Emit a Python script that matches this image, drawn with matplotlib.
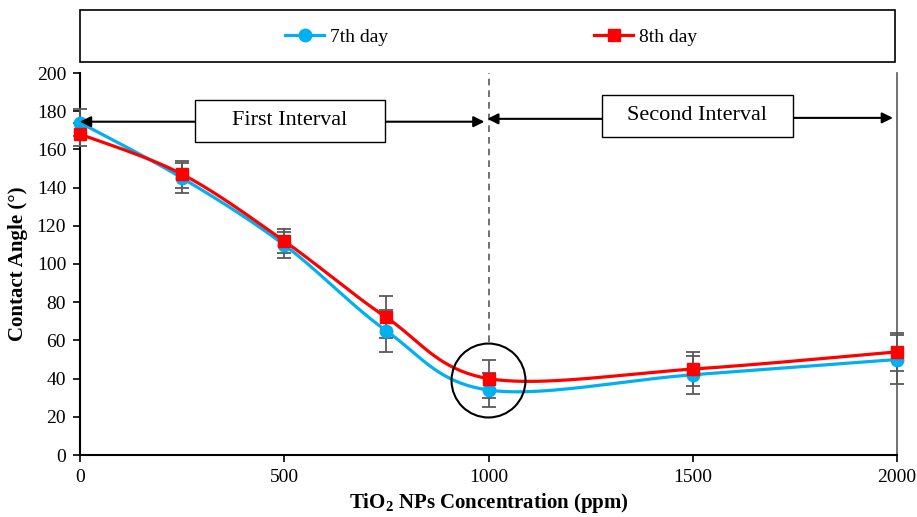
import numpy as np
import matplotlib
matplotlib.use('Agg')
import matplotlib.pyplot as plt
from matplotlib.patches import Rectangle, Ellipse

plt.rcParams['font.family'] = ['Liberation Serif', 'DejaVu Serif']
plt.rcParams['mathtext.fontset'] = 'custom'
plt.rcParams['mathtext.rm'] = 'Liberation Serif'
plt.rcParams['mathtext.bf'] = 'Liberation Serif:bold'

# concentration (ppm)
conc = [0, 250, 500, 750, 1000, 1500, 2000]
# contact angle (deg) and error bars
day7 = [174, 145, 110, 65, 34, 42, 50]
day7_err = [7, 8, 7, 11, 9, 10, 13]
day8 = [168, 147, 112, 72, 40, 45, 54]
day8_err = [6, 7, 6.5, 11, 10, 9, 10]

BLUE = '#00B0F0'
RED = '#FF0000'
GREY = '#595959'


def smooth(xs, ys, n=40):
    # catmull-rom style bezier, like the spreadsheet "smoothed line"
    xs = np.asarray(xs, float)
    ys = np.asarray(ys, float)
    px = np.concatenate([[xs[0]], xs, [xs[-1]]])
    py = np.concatenate([[ys[0]], ys, [ys[-1]]])
    outx, outy = [], []
    t = np.linspace(0, 1, n)
    for i in range(1, len(px) - 2):
        p0 = np.array([px[i], py[i]])
        p3 = np.array([px[i + 1], py[i + 1]])
        c1 = p0 + (p3 - np.array([px[i - 1], py[i - 1]])) / 6.0
        c2 = p3 - (np.array([px[i + 2], py[i + 2]]) - p0) / 6.0
        b = ((1 - t) ** 3)[:, None] * p0 + (3 * (1 - t) ** 2 * t)[:, None] * c1 \
            + (3 * (1 - t) * t ** 2)[:, None] * c2 + (t ** 3)[:, None] * p3
        outx.extend(b[:, 0])
        outy.extend(b[:, 1])
    return outx, outy


fig = plt.figure(figsize=(9.17, 5.17), dpi=100)
fig.set_facecolor('white')
ax = fig.add_axes([80 / 917, 62 / 517, 817 / 917, 382 / 517])

# curves
sx, sy = smooth(conc, day7)
ax.plot(sx, sy, color=BLUE, lw=2.3, zorder=3, clip_on=False)
sx, sy = smooth(conc, day8)
ax.plot(sx, sy, color=RED, lw=2.3, zorder=3, clip_on=False)

# error bars
ax.errorbar(conc, day7, yerr=day7_err, fmt='none', ecolor=GREY, elinewidth=1.3,
            capsize=5, capthick=1.3, zorder=4, clip_on=False)
ax.errorbar(conc, day8, yerr=day8_err, fmt='none', ecolor=GREY, elinewidth=1.3,
            capsize=5, capthick=1.3, zorder=4, clip_on=False)

# markers
ax.plot(conc, day7, 'o', color=BLUE, ms=9, zorder=5, clip_on=False)
ax.plot(conc, day8, 's', color=RED, ms=9, zorder=5, clip_on=False)

# legend handles
h1, = ax.plot([], [], color=BLUE, lw=2.3, marker='o', ms=9, label='7th day')
h2, = ax.plot([], [], color=RED, lw=2.3, marker='s', ms=9, label='8th day')

# dividing line and right border
ax.plot([1000, 1000], [59, 200], color=GREY, lw=1.2, ls=(0, (4, 3)), zorder=2)
ax.plot([2000, 2000], [0, 200], color=GREY, lw=1.2, zorder=2, clip_on=False)

# highlight circle
ax.add_patch(Ellipse((1000, 39), 181, 38.7, fill=False, edgecolor='black', lw=1.5, zorder=6))

# interval boxes with arrows
arrow = dict(arrowstyle='-|>', color='black', lw=1.5, mutation_scale=16, shrinkA=0, shrinkB=0)
ax.add_patch(Rectangle((281, 164), 466, 22, facecolor='white', edgecolor='black', lw=1, zorder=7))
ax.text(514, 175, 'First Interval', ha='center', va='center', fontsize=16, zorder=8)
ax.annotate('', xy=(0, 174.5), xytext=(281, 174.5), arrowprops=arrow, zorder=6)
ax.annotate('', xy=(990, 174.5), xytext=(747, 174.5), arrowprops=arrow, zorder=6)

ax.add_patch(Rectangle((1278, 166.5), 467, 22, facecolor='white', edgecolor='black', lw=1, zorder=7))
ax.text(1511, 177.5, 'Second Interval', ha='center', va='center', fontsize=16, zorder=8)
ax.annotate('', xy=(997, 176), xytext=(1278, 176), arrowprops=arrow, zorder=6)
ax.annotate('', xy=(1990, 176.5), xytext=(1745, 176.5), arrowprops=arrow, zorder=6)

# axes styling
ax.set_xlim(0, 2000)
ax.set_ylim(0, 200)
ax.set_xticks([0, 500, 1000, 1500, 2000])
ax.set_yticks(range(0, 201, 20))
for s in ['top', 'right']:
    ax.spines[s].set_visible(False)
for s in ['left', 'bottom']:
    ax.spines[s].set_linewidth(1.5)
ax.tick_params(direction='out', length=5, width=1.2, labelsize=14, pad=5)
ax.set_xlabel(r'TiO$_\mathbf{2}$ NPs Concentration (ppm)', fontsize=15, fontweight='bold', labelpad=4)
ax.set_ylabel('Contact Angle (°)', fontsize=15, fontweight='bold', labelpad=6)

# legend in a framed band above the plot
fig.add_artist(Rectangle((80 / 917, 1 - 62 / 517), 815 / 917, 52 / 517, transform=fig.transFigure,
                         facecolor='white', edgecolor='black', lw=1.2))
fig.legend(handles=[h1, h2], loc='center', bbox_to_anchor=(491 / 917, 1 - 37 / 517), ncol=2,
           frameon=False, fontsize=14, handlelength=2.0, handletextpad=0.3, columnspacing=10.6)

fig.savefig('out.png', dpi=100)
